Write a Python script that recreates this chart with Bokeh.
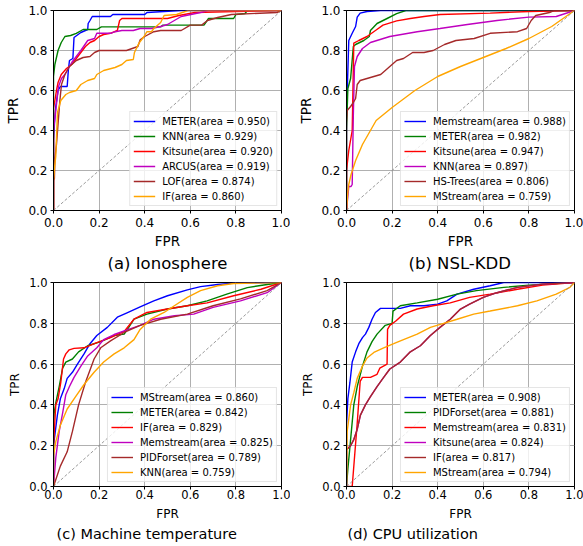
from bokeh.plotting import figure
from bokeh.layouts import column, row
from bokeh.models import FixedTicker, PrintfTickFormatter, Title, Range1d
from bokeh.embed import file_html
from bokeh.resources import INLINE

# ---------------- data ----------------
TICKS = [0.0, 0.2, 0.4, 0.6, 0.8, 1.0]
DIAG = [0.0, 1.0]
COLORS = ["#0000ff", "#008000", "#ff0000", "#bf00bf", "#a52a2a", "#ffa500"]

# (a) Ionosphere
A_CAPTION = "(a) Ionosphere"
A_LABELS = ["METER(area = 0.950)", "KNN(area = 0.929)", "Kitsune(area = 0.920)",
            "ARCUS(area = 0.919)", "LOF(area = 0.874)", "IF(area = 0.860)"]
A_METER_FPR = [0, 0, 0.005, 0.01, 0.02, 0.03, 0.06, 0.065, 0.07, 0.085, 0.09, 0.12, 0.15, 0.152, 0.16, 0.17, 0.25, 0.26, 0.40, 0.41, 0.56, 1.0]
A_METER_TPR = [0, 0.35, 0.45, 0.52, 0.6, 0.62, 0.62, 0.7, 0.75, 0.76, 0.865, 0.89, 0.905, 0.935, 0.95, 0.97, 0.97, 0.98, 0.98, 0.99, 1.0, 1.0]
A_KNN_FPR = [0, 0, 0.006, 0.02, 0.034, 0.05, 0.075, 0.1, 0.13, 0.19, 0.21, 0.47, 0.48, 0.66, 0.68, 0.79, 0.8, 0.84, 0.85, 1.0]
A_KNN_TPR = [0, 0.67, 0.73, 0.8, 0.84, 0.87, 0.875, 0.886, 0.905, 0.905, 0.918, 0.918, 0.927, 0.927, 0.96, 0.96, 0.98, 0.985, 1.0, 1.0]
A_KITSUNE_FPR = [0, 0, 0.006, 0.013, 0.02, 0.034, 0.057, 0.08, 0.1, 0.12, 0.14, 0.16, 0.18, 0.2, 0.22, 0.25, 0.28, 0.29, 0.3, 0.5, 0.55, 0.62, 0.98, 1.0]
A_KITSUNE_TPR = [0, 0.51, 0.55, 0.6, 0.64, 0.68, 0.71, 0.73, 0.76, 0.79, 0.82, 0.84, 0.85, 0.87, 0.88, 0.886, 0.9, 0.95, 0.96, 0.96, 0.975, 0.99, 1.0, 1.0]
A_ARCUS_FPR = [0, 0, 0.006, 0.015, 0.022, 0.035, 0.05, 0.08, 0.1, 0.12, 0.15, 0.18, 0.19, 0.25, 0.27, 0.3, 0.35, 0.38, 0.43, 0.47, 0.5, 0.53, 0.56, 0.645, 0.68, 1.0]
A_ARCUS_TPR = [0, 0.4, 0.46, 0.55, 0.62, 0.66, 0.68, 0.74, 0.77, 0.8, 0.85, 0.86, 0.886, 0.886, 0.894, 0.9, 0.9, 0.91, 0.91, 0.92, 0.93, 0.95, 0.97, 0.99, 1.0, 1.0]
A_LOF_FPR = [0, 0, 0.004, 0.006, 0.013, 0.028, 0.035, 0.05, 0.07, 0.1, 0.13, 0.16, 0.18, 0.2, 0.32, 0.37, 0.38, 0.4, 0.44, 0.47, 0.56, 0.6, 0.65, 0.675, 0.72, 0.78, 0.98, 1.0]
A_LOF_TPR = [0, 0.15, 0.16, 0.26, 0.33, 0.55, 0.63, 0.68, 0.72, 0.75, 0.765, 0.77, 0.79, 0.8, 0.8, 0.82, 0.853, 0.87, 0.894, 0.9, 0.9, 0.927, 0.927, 0.95, 0.965, 0.98, 0.99, 1.0]
A_IF_FPR = [0, 0, 0.005, 0.01, 0.0175, 0.032, 0.054, 0.07, 0.1, 0.12, 0.15, 0.18, 0.19, 0.22, 0.27, 0.3, 0.32, 0.35, 0.355, 0.375, 0.397, 0.41, 0.43, 0.44, 0.47, 0.485, 0.54, 0.59, 1.0]
A_IF_TPR = [0, 0.15, 0.22, 0.27, 0.49, 0.55, 0.58, 0.59, 0.6, 0.63, 0.65, 0.66, 0.68, 0.7, 0.715, 0.73, 0.75, 0.755, 0.79, 0.837, 0.87, 0.894, 0.894, 0.91, 0.94, 0.975, 0.98, 1.0, 1.0]

# (b) NSL-KDD
B_CAPTION = "(b) NSL-KDD"
B_LABELS = ["Memstream(area = 0.988)", "METER(area = 0.982)", "Kitsune(area = 0.947)",
            "KNN(area = 0.897)", "HS-Trees(area = 0.806)", "MStream(area = 0.759)"]
B_MEMSTREAM_FPR = [0, 0, 0.003, 0.01, 0.025, 0.04, 0.047, 0.06, 0.09, 0.15, 1.0]
B_MEMSTREAM_TPR = [0, 0.45, 0.59, 0.85, 0.886, 0.92, 0.967, 0.987, 0.995, 1.0, 1.0]
B_METER_FPR = [0, 0, 0.006, 0.018, 0.03, 0.04, 0.076, 0.1, 0.105, 0.134, 0.178, 0.22, 0.26, 1.0]
B_METER_TPR = [0, 0.4, 0.61, 0.66, 0.82, 0.83, 0.85, 0.87, 0.9, 0.935, 0.96, 0.984, 1.0, 1.0]
B_KITSUNE_FPR = [0, 0, 0.01, 0.025, 0.032, 0.054, 0.09, 0.127, 0.16, 0.22, 0.28, 0.34, 0.41, 0.63, 0.8, 1.0]
B_KITSUNE_TPR = [0, 0.2, 0.3, 0.4, 0.837, 0.85, 0.87, 0.9, 0.927, 0.948, 0.96, 0.97, 0.98, 0.987, 0.995, 1.0]
B_KNN_FPR = [0, 0.01, 0.02, 0.025, 0.03, 0.035, 0.047, 0.07, 0.105, 0.19, 0.31, 0.41, 0.53, 0.66, 0.8, 0.92, 1.0]
B_KNN_TPR = [0, 0.12, 0.12, 0.13, 0.48, 0.72, 0.77, 0.81, 0.84, 0.87, 0.894, 0.91, 0.93, 0.95, 0.967, 0.97, 1.0]
B_HSTREES_FPR = [0, 0, 0.003, 0.018, 0.03, 0.04, 0.047, 0.06, 0.09, 0.12, 0.15, 0.18, 0.19, 0.22, 0.25, 0.29, 0.34, 0.38, 0.43, 0.48, 0.56, 0.63, 0.75, 0.79, 0.81, 0.83, 0.89, 0.91, 1.0]
B_HSTREES_TPR = [0, 0.44, 0.5, 0.52, 0.54, 0.56, 0.63, 0.65, 0.66, 0.67, 0.68, 0.71, 0.72, 0.75, 0.76, 0.79, 0.79, 0.8, 0.83, 0.85, 0.86, 0.886, 0.894, 0.91, 0.95, 0.975, 0.99, 1.0, 1.0]
B_MSTREAM_FPR = [0, 0.005, 0.01, 0.02, 0.04, 0.07, 0.1, 0.13, 0.2, 0.3, 0.4, 0.5, 0.6, 0.7, 0.8, 0.9, 1.0]
B_MSTREAM_TPR = [0, 0.08, 0.13, 0.18, 0.25, 0.33, 0.39, 0.45, 0.515, 0.6, 0.67, 0.72, 0.765, 0.81, 0.86, 0.92, 1.0]

# (c) Machine temperature
C_CAPTION = "(c) Machine temperature"
C_LABELS = ["MStream(area = 0.860)", "METER(area = 0.842)", "IF(area = 0.829)",
            "Memstream(area = 0.825)", "PIDForset(area = 0.789)", "KNN(area = 0.759)"]
C_MSTREAM_FPR = [0, 0, 0.017, 0.03, 0.047, 0.06, 0.083, 0.105, 0.134, 0.16, 0.19, 0.236, 0.28, 0.32, 0.38, 0.44, 0.5, 0.587, 0.645, 0.72, 0.79, 1.0]
C_MSTREAM_TPR = [0, 0.2, 0.35, 0.43, 0.48, 0.53, 0.56, 0.6, 0.65, 0.7, 0.74, 0.78, 0.83, 0.85, 0.88, 0.91, 0.935, 0.964, 0.98, 0.99, 0.997, 1.0]
C_METER_FPR = [0, 0, 0.003, 0.01, 0.025, 0.04, 0.054, 0.083, 0.11, 0.15, 0.207, 0.266, 0.31, 0.33, 0.353, 0.41, 0.5, 0.587, 0.674, 0.76, 0.85, 0.937, 1.0]
C_METER_TPR = [0, 0.3, 0.36, 0.41, 0.49, 0.58, 0.61, 0.625, 0.66, 0.69, 0.71, 0.74, 0.747, 0.78, 0.82, 0.845, 0.87, 0.886, 0.91, 0.943, 0.975, 0.99, 1.0]
C_IF_FPR = [0, 0, 0.01, 0.02, 0.032, 0.044, 0.054, 0.069, 0.09, 0.134, 0.19, 0.25, 0.31, 0.353, 0.41, 0.5, 0.587, 0.674, 0.79, 0.91, 1.0]
C_IF_TPR = [0, 0.2, 0.4, 0.43, 0.51, 0.625, 0.65, 0.67, 0.677, 0.68, 0.705, 0.73, 0.76, 0.82, 0.853, 0.87, 0.886, 0.9, 0.935, 0.967, 1.0]
C_MEMSTREAM_FPR = [0, 0.01, 0.025, 0.04, 0.054, 0.07, 0.09, 0.12, 0.15, 0.19, 0.22, 0.266, 0.31, 0.38, 0.44, 0.53, 0.615, 0.7, 0.82, 0.937, 1.0]
C_MEMSTREAM_TPR = [0, 0.14, 0.27, 0.36, 0.45, 0.49, 0.535, 0.59, 0.64, 0.68, 0.72, 0.745, 0.763, 0.79, 0.82, 0.837, 0.845, 0.878, 0.91, 0.95, 1.0]
C_PIDFORSET_FPR = [0, 0.03, 0.06, 0.083, 0.11, 0.14, 0.178, 0.207, 0.25, 0.31, 0.38, 0.47, 0.587, 0.7, 0.82, 0.937, 1.0]
C_PIDFORSET_TPR = [0, 0.1, 0.17, 0.27, 0.4, 0.51, 0.625, 0.68, 0.714, 0.755, 0.79, 0.82, 0.845, 0.886, 0.92, 0.96, 1.0]
C_KNN_FPR = [0, 0, 0.01, 0.03, 0.06, 0.1, 0.134, 0.178, 0.22, 0.266, 0.31, 0.353, 0.38, 0.426, 0.485, 0.53, 0.587, 0.645, 0.72, 0.79, 1.0]
C_KNN_TPR = [0, 0.15, 0.22, 0.3, 0.38, 0.445, 0.5, 0.56, 0.61, 0.65, 0.68, 0.72, 0.77, 0.82, 0.853, 0.886, 0.927, 0.96, 0.984, 0.995, 1.0]

# (d) CPU utilization
D_CAPTION = "(d) CPU utilization"
D_LABELS = ["METER(area = 0.908)", "PIDForset(area = 0.881)", "Memstream(area = 0.831)",
            "Kitsune(area = 0.824)", "IF(area = 0.817)", "MStream(area = 0.794)"]
D_METER_FPR = [0, 0, 0.006, 0.015, 0.025, 0.04, 0.054, 0.07, 0.083, 0.098, 0.112, 0.127, 0.149, 0.236, 0.28, 0.34, 0.4, 0.44, 0.485, 0.558, 0.63, 0.69, 1.0]
D_METER_TPR = [0, 0.3, 0.43, 0.51, 0.61, 0.66, 0.7, 0.73, 0.747, 0.78, 0.82, 0.853, 0.873, 0.873, 0.886, 0.886, 0.894, 0.91, 0.943, 0.967, 0.984, 1.0, 1.0]
D_PIDFORSET_FPR = [0, 0.006, 0.018, 0.032, 0.047, 0.07, 0.09, 0.112, 0.134, 0.17, 0.2, 0.204, 0.236, 0.31, 0.4, 0.485, 0.57, 0.69, 0.8, 0.92, 1.0]
D_PIDFORSET_TPR = [0, 0.086, 0.23, 0.4, 0.49, 0.59, 0.66, 0.71, 0.747, 0.79, 0.8, 0.86, 0.886, 0.9, 0.918, 0.943, 0.96, 0.976, 0.987, 0.995, 1.0]
D_MEMSTREAM_FPR = [0, 0.025, 0.047, 0.06, 0.07, 0.105, 0.134, 0.146, 0.178, 0.18, 0.19, 0.215, 0.25, 0.31, 0.38, 0.455, 0.54, 0.63, 0.75, 0.86, 1.0]
D_MEMSTREAM_TPR = [0, 0.0, 0.31, 0.515, 0.535, 0.535, 0.55, 0.58, 0.6, 0.77, 0.79, 0.81, 0.845, 0.87, 0.886, 0.9, 0.927, 0.943, 0.967, 0.987, 1.0]
# Kitsune's curve is not visible in the picture: it lies hidden beneath the IF curve
D_KITSUNE_FPR = [0, 0, 0.018, 0.032, 0.047, 0.061, 0.083, 0.105, 0.134, 0.163, 0.19, 0.236, 0.28, 0.324, 0.368, 0.41, 0.455, 0.5, 0.54, 0.6, 0.66, 0.75, 0.86, 1.0]
D_KITSUNE_TPR = [0, 0.18, 0.2, 0.23, 0.28, 0.35, 0.4, 0.44, 0.49, 0.535, 0.576, 0.61, 0.66, 0.69, 0.74, 0.78, 0.82, 0.87, 0.894, 0.927, 0.95, 0.976, 0.992, 1.0]
D_IF_FPR = [0, 0, 0.018, 0.032, 0.047, 0.061, 0.083, 0.105, 0.134, 0.163, 0.19, 0.236, 0.28, 0.324, 0.368, 0.41, 0.455, 0.5, 0.54, 0.6, 0.66, 0.75, 0.86, 1.0]
D_IF_TPR = [0, 0.18, 0.2, 0.23, 0.28, 0.35, 0.4, 0.44, 0.49, 0.535, 0.576, 0.61, 0.66, 0.69, 0.74, 0.78, 0.82, 0.87, 0.894, 0.927, 0.95, 0.976, 0.992, 1.0]
D_MSTREAM_FPR = [0, 0.003, 0.01, 0.018, 0.032, 0.047, 0.07, 0.09, 0.12, 0.163, 0.207, 0.25, 0.31, 0.368, 0.426, 0.485, 0.558, 0.63, 0.75, 0.835, 0.92, 0.98, 1.0]
D_MSTREAM_TPR = [0, 0.27, 0.33, 0.4, 0.46, 0.53, 0.59, 0.63, 0.657, 0.68, 0.7, 0.72, 0.747, 0.78, 0.8, 0.82, 0.845, 0.86, 0.886, 0.91, 0.943, 0.976, 1.0]

PANELS = [
    (A_CAPTION, A_LABELS, [(A_METER_FPR, A_METER_TPR), (A_KNN_FPR, A_KNN_TPR), (A_KITSUNE_FPR, A_KITSUNE_TPR),
                           (A_ARCUS_FPR, A_ARCUS_TPR), (A_LOF_FPR, A_LOF_TPR), (A_IF_FPR, A_IF_TPR)]),
    (B_CAPTION, B_LABELS, [(B_MEMSTREAM_FPR, B_MEMSTREAM_TPR), (B_METER_FPR, B_METER_TPR), (B_KITSUNE_FPR, B_KITSUNE_TPR),
                           (B_KNN_FPR, B_KNN_TPR), (B_HSTREES_FPR, B_HSTREES_TPR), (B_MSTREAM_FPR, B_MSTREAM_TPR)]),
    (C_CAPTION, C_LABELS, [(C_MSTREAM_FPR, C_MSTREAM_TPR), (C_METER_FPR, C_METER_TPR), (C_IF_FPR, C_IF_TPR),
                           (C_MEMSTREAM_FPR, C_MEMSTREAM_TPR), (C_PIDFORSET_FPR, C_PIDFORSET_TPR), (C_KNN_FPR, C_KNN_TPR)]),
    (D_CAPTION, D_LABELS, [(D_METER_FPR, D_METER_TPR), (D_PIDFORSET_FPR, D_PIDFORSET_TPR), (D_MEMSTREAM_FPR, D_MEMSTREAM_TPR),
                           (D_KITSUNE_FPR, D_KITSUNE_TPR), (D_IF_FPR, D_IF_TPR), (D_MSTREAM_FPR, D_MSTREAM_TPR)]),
]

FONT = "DejaVu Sans"


def make_panel(caption, labels, curves, width, height, borders, fonts, stand, cap_offset):
    ml, mr, mt, mb = borders
    tick_fs, lab_fs, cap_fs = fonts
    x_std, x_lab_std = stand
    p = figure(width=width, height=height, output_backend="svg", toolbar_location=None,
               x_range=Range1d(0, 1), y_range=Range1d(0, 1),
               min_border_left=ml, min_border_right=mr, min_border_top=mt, min_border_bottom=mb,
               x_axis_label="FPR", y_axis_label="TPR")
    p.background_fill_color = "white"
    p.border_fill_color = "white"
    p.outline_line_color = "black"
    p.outline_line_width = 1
    p.outline_line_alpha = 1

    fmt = PrintfTickFormatter(format="%.1f")
    for ax in [p.xaxis[0], p.yaxis[0]]:
        ax.ticker = FixedTicker(ticks=TICKS)
        ax.formatter = fmt
        ax.major_tick_out = 3
        ax.major_tick_in = 0
        ax.minor_tick_line_color = None
        ax.major_tick_line_color = "black"
        ax.axis_line_color = "black"
        ax.major_label_text_font = FONT
        ax.major_label_text_font_size = tick_fs
        ax.major_label_text_color = "black"
        ax.axis_label_text_font = FONT
        ax.axis_label_text_font_size = lab_fs
        ax.axis_label_text_font_style = "normal"
        ax.axis_label_text_color = "black"
    p.xaxis[0].major_label_standoff = x_std
    p.xaxis[0].axis_label_standoff = x_lab_std
    p.yaxis[0].major_label_standoff = 3
    p.yaxis[0].axis_label_standoff = 4

    p.grid.grid_line_color = "#b0b0b0"
    p.grid.grid_line_width = 1

    for (fpr, tpr), lab, col in zip(curves, labels, COLORS):
        p.line(fpr, tpr, line_color=col, line_width=1.4, legend_label=lab)
    p.line(DIAG, DIAG, line_color="#808080", line_width=0.8, line_dash="3 2")

    lg = p.legend[0]
    lg.location = "bottom_right"
    lg.label_text_font = FONT
    lg.label_text_font_size = "10px"
    lg.label_text_color = "black"
    lg.label_height = 12
    lg.glyph_height = 12
    lg.glyph_width = 22
    lg.label_standoff = 7
    lg.spacing = 3
    lg.padding = 3
    lg.margin = 4
    lg.border_line_color = "#cccccc"
    lg.border_line_width = 1
    lg.background_fill_color = "white"
    lg.background_fill_alpha = 0.8

    p.add_layout(Title(text=caption, align="left", text_font=FONT, text_font_size=cap_fs,
                       text_font_style="normal", text_color="black", standoff=0,
                       text_line_height=1.0, offset=cap_offset), "below")
    return p


pa = make_panel(*PANELS[0], 290, 272, (53, 9, 10, 58), ("12px", "13.5px", "16.5px"), (4, 3), 54)
pb = make_panel(*PANELS[1], 293, 272, (56, 9, 10, 58), ("12px", "13.5px", "16.5px"), (4, 3), 62)
pc = make_panel(*PANELS[2], 290, 274, (53, 9, 10, 60), ("11.5px", "12px", "14.5px"), (0, 5), 3)
pd = make_panel(*PANELS[3], 293, 274, (56, 9, 10, 60), ("11.5px", "12px", "14.5px"), (0, 5), 1)

layout = column(row(pa, pb, spacing=0), row(pc, pd, spacing=0), spacing=0)

open("out.html", "w").write(file_html(layout, INLINE))
